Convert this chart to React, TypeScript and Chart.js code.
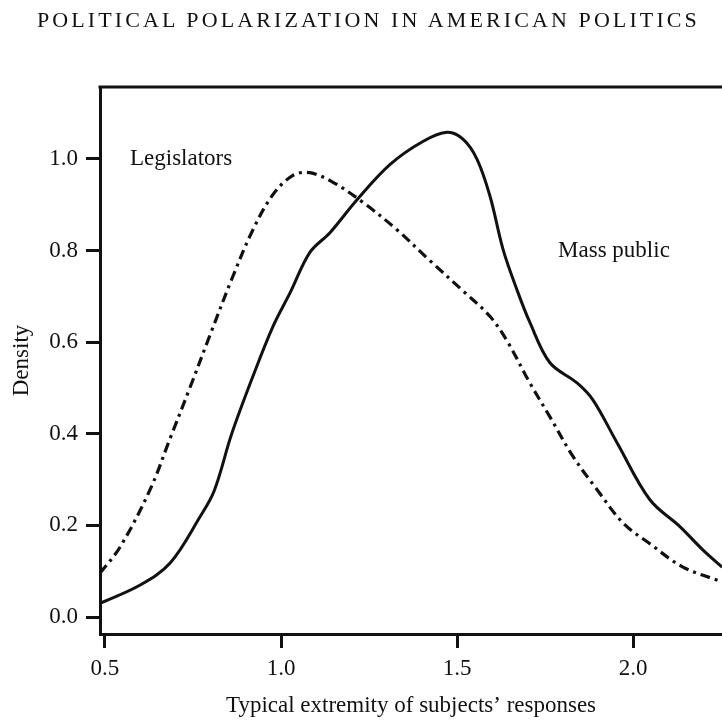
import React, { useEffect, useRef } from "react";
import { Chart, registerables } from "chart.js";

Chart.register(...registerables);

const TITLE = "POLITICAL POLARIZATION IN AMERICAN POLITICS";
const X_TITLE = "Typical extremity of subjects’ responses";
const Y_TITLE = "Density";

const xTicks = [0.5, 1.0, 1.5, 2.0];
const yTicks = [0.0, 0.2, 0.4, 0.6, 0.8, 1.0];

// Mass public (solid)
const massPublicX = [0.486, 0.6, 0.685, 0.77, 0.81, 0.86, 0.92, 0.977, 1.026, 1.082, 1.139, 1.216, 1.31, 1.403, 1.472, 1.517, 1.557, 1.594, 1.631, 1.67, 1.707, 1.764, 1.841, 1.886, 1.955, 2.048, 2.134, 2.199, 2.253];
const massPublicY = [0.03, 0.07, 0.118, 0.219, 0.275, 0.4, 0.525, 0.634, 0.708, 0.796, 0.839, 0.911, 0.988, 1.038, 1.058, 1.043, 0.999, 0.918, 0.802, 0.715, 0.643, 0.555, 0.511, 0.474, 0.38, 0.256, 0.197, 0.146, 0.109];

// Legislators (dash-dot)
const legislatorsX = [0.486, 0.543, 0.628, 0.685, 0.741, 0.798, 0.864, 0.92, 0.977, 1.034, 1.082, 1.148, 1.233, 1.33, 1.423, 1.517, 1.594, 1.642, 1.707, 1.764, 1.83, 1.898, 1.972, 2.048, 2.142, 2.253];
const legislatorsY = [0.096, 0.153, 0.278, 0.39, 0.5, 0.615, 0.745, 0.845, 0.922, 0.964, 0.97, 0.949, 0.905, 0.845, 0.778, 0.712, 0.656, 0.603, 0.511, 0.437, 0.35, 0.278, 0.205, 0.16, 0.109, 0.077];

const seriesLabels = ["Mass public", "Legislators"];
// in-plot text labels, anchored in data coordinates
const annotationText = ["Legislators", "Mass public"];
const annotationX = [0.571, 1.787];
const annotationY = [1.0, 0.8];

const INK = "#111111";
const FONT = '"Liberation Serif", "Times New Roman", serif';

const framePlugin = {
  id: "frameAndLabels",
  afterDraw(chart: any) {
    const { ctx, chartArea, scales } = chart;
    ctx.save();
    ctx.strokeStyle = INK;
    ctx.lineWidth = 3;
    ctx.beginPath();
    ctx.moveTo(chartArea.left - 1.5, chartArea.top);
    ctx.lineTo(chartArea.right + 2, chartArea.top);
    ctx.stroke();
    ctx.fillStyle = INK;
    ctx.font = `23px ${FONT}`;
    ctx.textAlign = "left";
    ctx.textBaseline = "middle";
    annotationText.forEach((t, i) => {
      ctx.fillText(t, scales.x.getPixelForValue(annotationX[i]), scales.y.getPixelForValue(annotationY[i]));
    });
    ctx.restore();
  },
};

export default function App() {
  const ref = useRef<HTMLCanvasElement | null>(null);

  useEffect(() => {
    if (!ref.current) return;
    const chart = new Chart(ref.current, {
      type: "line",
      data: {
        datasets: [
          {
            label: seriesLabels[0],
            data: massPublicX.map((x, i) => ({ x, y: massPublicY[i] })),
            borderColor: INK,
            borderWidth: 3,
            pointRadius: 0,
            fill: false,
            tension: 0.35,
          },
          {
            label: seriesLabels[1],
            data: legislatorsX.map((x, i) => ({ x, y: legislatorsY[i] })),
            borderColor: INK,
            borderWidth: 3.2,
            borderDash: [10, 5, 3, 5],
            pointRadius: 0,
            fill: false,
            tension: 0.35,
          },
        ],
      },
      options: {
        animation: false,
        responsive: false,
        maintainAspectRatio: false,
        layout: { padding: { top: 87, left: 0, right: 0, bottom: 0 } },
        plugins: {
          legend: { display: false },
          tooltip: { enabled: false },
          title: { display: false },
        },
        scales: {
          x: {
            type: "linear",
            min: 0.4858,
            max: 2.2528,
            afterBuildTicks: (s: any) => {
              s.ticks = xTicks.map((v) => ({ value: v }));
            },
            afterFit: (s: any) => {
              s.height = 90;
            },
            ticks: {
              autoSkip: false,
              maxRotation: 0,
              padding: 7,
              color: INK,
              font: { family: FONT, size: 23 },
              callback: (v: any) => Number(v).toFixed(1),
            },
            grid: {
              display: true,
              drawOnChartArea: false,
              drawTicks: true,
              tickLength: 14,
              tickWidth: 3,
              tickColor: INK,
              color: INK,
            },
            border: { display: true, color: INK, width: 3 },
            title: {
              display: true,
              text: X_TITLE,
              color: INK,
              font: { family: FONT, size: 23 },
              padding: { top: 0, bottom: 4 },
            },
          },
          y: {
            type: "linear",
            min: -0.037,
            max: 1.157,
            afterBuildTicks: (s: any) => {
              s.ticks = yTicks.map((v) => ({ value: v }));
            },
            afterFit: (s: any) => {
              s.width = 100;
            },
            ticks: {
              autoSkip: false,
              padding: 8,
              color: INK,
              font: { family: FONT, size: 23 },
              callback: (v: any) => Number(v).toFixed(1),
            },
            grid: {
              display: true,
              drawOnChartArea: false,
              drawTicks: true,
              tickLength: 14,
              tickWidth: 3,
              tickColor: INK,
              color: INK,
            },
            border: { display: true, color: INK, width: 3 },
            title: {
              display: true,
              text: Y_TITLE,
              color: INK,
              font: { family: FONT, size: 23 },
              padding: { top: 8, bottom: 0 },
            },
          },
        },
      },
      plugins: [framePlugin],
    });
    return () => chart.destroy();
  }, []);

  return (
    <div
      style={{
        position: "fixed",
        left: 0,
        top: 0,
        width: 722,
        height: 724,
        overflow: "hidden",
        background: "#ffffff",
      }}
    >
      <div
        style={{
          position: "absolute",
          top: 9,
          left: 37,
          whiteSpace: "nowrap",
          fontFamily: FONT,
          fontSize: 22,
          lineHeight: "22px",
          letterSpacing: "3.1px",
          color: INK,
        }}
      >
        {TITLE}
      </div>
      <canvas ref={ref} width={722} height={724} style={{ display: "block", width: 722, height: 724 }} />
    </div>
  );
}
